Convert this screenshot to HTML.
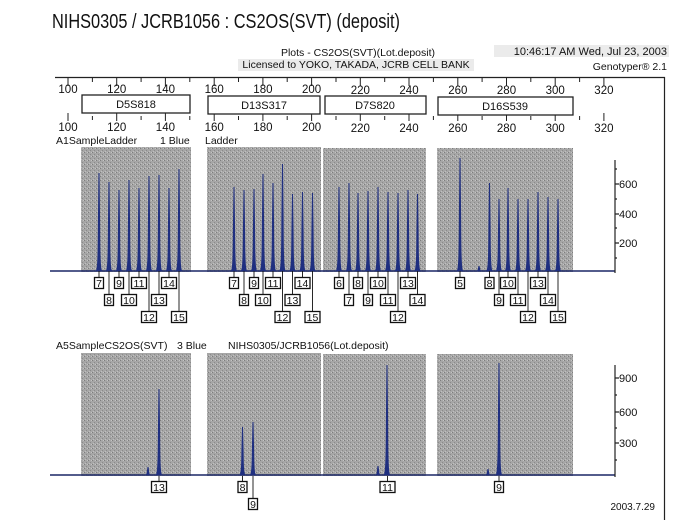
<!DOCTYPE html>
<html><head><meta charset="utf-8"><style>
html,body{margin:0;padding:0;background:#fff}
svg{display:block}
text{font-family:"Liberation Sans",sans-serif;fill:#111}
.lb rect{fill:#fff;stroke:#111;stroke-width:1.3}
.lb line{stroke:#111;stroke-width:0.9}
.lb text{font-size:10.5px;text-anchor:middle}
.pk{fill:#1f2f80;stroke:none}
</style></head><body>
<svg width="700" height="520" viewBox="0 0 700 520" xmlns="http://www.w3.org/2000/svg">
<defs>
<path id="pk" d="M-3.5,0 C-1.4,0 -1.3,-0.2 -1.1,-0.5 L-0.5,-1 L0.5,-1 L1.1,-0.5 C1.3,-0.2 1.4,0 3.5,0 Z"/>
<pattern id="gr" width="4" height="4" patternUnits="userSpaceOnUse">
<rect width="4" height="4" fill="#a6a6a6"/><rect x="0" y="0" width="1" height="1" fill="#7d7d7d"/><rect x="2" y="2" width="1" height="1" fill="#8a8a8a"/><rect x="3" y="0" width="1" height="1" fill="#c4c4c4"/><rect x="1" y="3" width="1" height="1" fill="#c0c0c0"/>
</pattern>
</defs>
<text x="52" y="28" font-size="20" textLength="348" lengthAdjust="spacingAndGlyphs">NIHS0305 / JCRB1056 : CS2OS(SVT)  (deposit)</text>
<text x="358" y="56" font-size="10.5" text-anchor="middle">Plots - CS2OS(SVT)(Lot.deposit)</text>
<rect x="238" y="59" width="236" height="12" fill="#ebebeb"/>
<text x="356" y="68" font-size="10.5" text-anchor="middle">Licensed to YOKO, TAKADA, JCRB CELL BANK</text>
<rect x="494" y="45" width="175" height="12" fill="#ebebeb"/>
<text x="667" y="55" font-size="11" text-anchor="end">10:46:17 AM Wed, Jul 23, 2003</text>
<text x="667" y="70" font-size="10.5" text-anchor="end">Genotyper® 2.1</text>
<line x1="55" y1="77.5" x2="665" y2="77.5" stroke="#222" stroke-width="1.2"/>
<line x1="664.5" y1="77" x2="664.5" y2="520" stroke="#222" stroke-width="1.2"/>
<g stroke="#222" stroke-width="1">
<path d="M68,78v8M92.4,78v4M116.7,78v8M141.1,78v4M165.4,78v8M189.8,78v4M214.2,78v8M238.5,78v4M262.9,78v8M287.2,78v4M311.6,78v8M336,78v4M360.3,78v8M384.7,78v4M409,78v8M433.4,78v4M457.8,78v8M482.1,78v4M506.5,78v8M530.8,78v4M555.2,78v8M579.6,78v4M603.9,78v8"/>
<path d="M68,113v8M92.4,116v4M116.7,113v8M141.1,116v4M165.4,113v8M189.8,116v4M214.2,113v8M238.5,116v4M262.9,113v8M287.2,116v4M311.6,113v8M336,116v4M360.3,113v8M384.7,116v4M409,113v8M433.4,116v4M457.8,113v8M482.1,116v4M506.5,113v8M530.8,116v4M555.2,113v8M579.6,116v4M603.9,113v8"/>
</g>
<g font-size="11.5" text-anchor="middle">
<text x="68" y="93">100</text><text x="116.7" y="93">120</text><text x="165.4" y="93">140</text><text x="214.2" y="93">160</text><text x="262.9" y="93">180</text><text x="311.6" y="93">200</text><text x="360.3" y="94">220</text><text x="409" y="94">240</text><text x="457.8" y="94">260</text><text x="506.5" y="94">280</text><text x="555.2" y="94">300</text><text x="603.9" y="94">320</text>
<text x="68" y="131">100</text><text x="116.7" y="131">120</text><text x="165.4" y="131">140</text><text x="214.2" y="131">160</text><text x="262.9" y="131">180</text><text x="311.6" y="131">200</text><text x="360.3" y="132">220</text><text x="409" y="132">240</text><text x="457.8" y="132">260</text><text x="506.5" y="132">280</text><text x="555.2" y="132">300</text><text x="603.9" y="132">320</text>
</g>
<g fill="#fff" stroke="#222" stroke-width="1.3">
<rect x="82" y="95" width="108" height="18"/><rect x="208" y="96" width="112" height="18"/><rect x="325" y="96" width="101" height="18"/><rect x="438" y="97" width="135" height="18"/>
</g>
<g font-size="11" text-anchor="middle">
<text x="136" y="108">D5S818</text><text x="264" y="109">D13S317</text><text x="375" y="109">D7S820</text><text x="505" y="110">D16S539</text>
</g>
<text x="56" y="144" font-size="10.5">A1SampleLadder</text>
<text x="160" y="144" font-size="10.5">1 Blue</text>
<text x="205" y="144" font-size="10.5">Ladder</text>
<g fill="url(#gr)">
<rect x="81" y="147" width="110" height="125"/><rect x="207" y="147" width="114" height="125"/><rect x="323" y="148" width="103" height="124"/><rect x="437" y="148" width="136" height="124"/>
</g>
<line x1="50" y1="271" x2="615" y2="271" stroke="#1a2766" stroke-width="1.6"/>
<g class="pk">
<use href="#pk" transform="translate(99,271) scale(1,98)"/><use href="#pk" transform="translate(109,271) scale(1,89)"/><use href="#pk" transform="translate(119,271) scale(1,81)"/><use href="#pk" transform="translate(129,271) scale(1,91)"/><use href="#pk" transform="translate(139,271) scale(1,83)"/><use href="#pk" transform="translate(149,271) scale(1,95)"/><use href="#pk" transform="translate(159,271) scale(1,96)"/><use href="#pk" transform="translate(169,271) scale(1,83)"/><use href="#pk" transform="translate(179,271) scale(1,102)"/>
<use href="#pk" transform="translate(234,271) scale(1,84)"/><use href="#pk" transform="translate(244,271) scale(1,81)"/><use href="#pk" transform="translate(254,271) scale(1,82)"/><use href="#pk" transform="translate(263,271) scale(1,97)"/><use href="#pk" transform="translate(273,271) scale(1,88)"/><use href="#pk" transform="translate(282.5,271) scale(1,107)"/><use href="#pk" transform="translate(292.5,271) scale(1,77)"/><use href="#pk" transform="translate(302.5,271) scale(1,79)"/><use href="#pk" transform="translate(312.5,271) scale(1,78)"/>
<use href="#pk" transform="translate(339,271) scale(1,84)"/><use href="#pk" transform="translate(349,271) scale(1,88)"/><use href="#pk" transform="translate(358,271) scale(1,78)"/><use href="#pk" transform="translate(368,271) scale(1,80)"/><use href="#pk" transform="translate(378,271) scale(1,84)"/><use href="#pk" transform="translate(388,271) scale(1,79)"/><use href="#pk" transform="translate(398,271) scale(1,78)"/><use href="#pk" transform="translate(408,271) scale(1,81)"/><use href="#pk" transform="translate(417.5,271) scale(1,77)"/>
<use href="#pk" transform="translate(460,271) scale(1,113)"/><use href="#pk" transform="translate(479,271) scale(1,5)"/><use href="#pk" transform="translate(489.5,271) scale(1,88)"/><use href="#pk" transform="translate(499,271) scale(1,72)"/><use href="#pk" transform="translate(508,271) scale(1,83)"/><use href="#pk" transform="translate(518,271) scale(1,72)"/><use href="#pk" transform="translate(528,271) scale(1,72)"/><use href="#pk" transform="translate(538,271) scale(1,79)"/><use href="#pk" transform="translate(548,271) scale(1,74)"/><use href="#pk" transform="translate(558,271) scale(1,72)"/>
</g>
<g stroke="#222" stroke-width="1.2"><path d="M615,160V273M615,184h4M615,214h4M615,243h4M615,199h2M615,228h2M615,258h2M615,169h2"/></g>
<g font-size="11"><text x="619" y="188">600</text><text x="619" y="218">400</text><text x="619" y="247">200</text></g>
<g class="lb">
<g transform="translate(99,283)"><line y1="-12" y2="-5.5"/><rect x="-4.5" y="-5.5" width="9" height="11"/><text y="4">7</text></g>
<g transform="translate(109,300)"><line y1="-29" y2="-5.5"/><rect x="-4.5" y="-5.5" width="9" height="11"/><text y="4">8</text></g>
<g transform="translate(119,283)"><line y1="-12" y2="-5.5"/><rect x="-4.5" y="-5.5" width="9" height="11"/><text y="4">9</text></g>
<g transform="translate(129,300)"><line y1="-29" y2="-5.5"/><rect x="-7.5" y="-5.5" width="15" height="11"/><text y="4">10</text></g>
<g transform="translate(139,283)"><line y1="-12" y2="-5.5"/><rect x="-7.5" y="-5.5" width="15" height="11"/><text y="4">11</text></g>
<g transform="translate(149,317)"><line y1="-46" y2="-5.5"/><rect x="-7.5" y="-5.5" width="15" height="11"/><text y="4">12</text></g>
<g transform="translate(159,300)"><line y1="-29" y2="-5.5"/><rect x="-7.5" y="-5.5" width="15" height="11"/><text y="4">13</text></g>
<g transform="translate(169,283)"><line y1="-12" y2="-5.5"/><rect x="-7.5" y="-5.5" width="15" height="11"/><text y="4">14</text></g>
<g transform="translate(179,317)"><line y1="-46" y2="-5.5"/><rect x="-7.5" y="-5.5" width="15" height="11"/><text y="4">15</text></g>
<g transform="translate(234,283)"><line y1="-12" y2="-5.5"/><rect x="-4.5" y="-5.5" width="9" height="11"/><text y="4">7</text></g>
<g transform="translate(244,300)"><line y1="-29" y2="-5.5"/><rect x="-4.5" y="-5.5" width="9" height="11"/><text y="4">8</text></g>
<g transform="translate(254,283)"><line y1="-12" y2="-5.5"/><rect x="-4.5" y="-5.5" width="9" height="11"/><text y="4">9</text></g>
<g transform="translate(263,300)"><line y1="-29" y2="-5.5"/><rect x="-7.5" y="-5.5" width="15" height="11"/><text y="4">10</text></g>
<g transform="translate(273,283)"><line y1="-12" y2="-5.5"/><rect x="-7.5" y="-5.5" width="15" height="11"/><text y="4">11</text></g>
<g transform="translate(282.5,317)"><line y1="-46" y2="-5.5"/><rect x="-7.5" y="-5.5" width="15" height="11"/><text y="4">12</text></g>
<g transform="translate(292.5,300)"><line y1="-29" y2="-5.5"/><rect x="-7.5" y="-5.5" width="15" height="11"/><text y="4">13</text></g>
<g transform="translate(302.5,283)"><line y1="-12" y2="-5.5"/><rect x="-7.5" y="-5.5" width="15" height="11"/><text y="4">14</text></g>
<g transform="translate(312.5,317)"><line y1="-46" y2="-5.5"/><rect x="-7.5" y="-5.5" width="15" height="11"/><text y="4">15</text></g>
<g transform="translate(339,283)"><line y1="-12" y2="-5.5"/><rect x="-4.5" y="-5.5" width="9" height="11"/><text y="4">6</text></g>
<g transform="translate(349,300)"><line y1="-29" y2="-5.5"/><rect x="-4.5" y="-5.5" width="9" height="11"/><text y="4">7</text></g>
<g transform="translate(358,283)"><line y1="-12" y2="-5.5"/><rect x="-4.5" y="-5.5" width="9" height="11"/><text y="4">8</text></g>
<g transform="translate(368,300)"><line y1="-29" y2="-5.5"/><rect x="-4.5" y="-5.5" width="9" height="11"/><text y="4">9</text></g>
<g transform="translate(378,283)"><line y1="-12" y2="-5.5"/><rect x="-7.5" y="-5.5" width="15" height="11"/><text y="4">10</text></g>
<g transform="translate(388,300)"><line y1="-29" y2="-5.5"/><rect x="-7.5" y="-5.5" width="15" height="11"/><text y="4">11</text></g>
<g transform="translate(398,317)"><line y1="-46" y2="-5.5"/><rect x="-7.5" y="-5.5" width="15" height="11"/><text y="4">12</text></g>
<g transform="translate(408,283)"><line y1="-12" y2="-5.5"/><rect x="-7.5" y="-5.5" width="15" height="11"/><text y="4">13</text></g>
<g transform="translate(417.5,300)"><line y1="-29" y2="-5.5"/><rect x="-7.5" y="-5.5" width="15" height="11"/><text y="4">14</text></g>
<g transform="translate(460,283)"><line y1="-12" y2="-5.5"/><rect x="-4.5" y="-5.5" width="9" height="11"/><text y="4">5</text></g>
<g transform="translate(489.5,283)"><line y1="-12" y2="-5.5"/><rect x="-4.5" y="-5.5" width="9" height="11"/><text y="4">8</text></g>
<g transform="translate(499,300)"><line y1="-29" y2="-5.5"/><rect x="-4.5" y="-5.5" width="9" height="11"/><text y="4">9</text></g>
<g transform="translate(508,283)"><line y1="-12" y2="-5.5"/><rect x="-7.5" y="-5.5" width="15" height="11"/><text y="4">10</text></g>
<g transform="translate(518,300)"><line y1="-29" y2="-5.5"/><rect x="-7.5" y="-5.5" width="15" height="11"/><text y="4">11</text></g>
<g transform="translate(528,317)"><line y1="-46" y2="-5.5"/><rect x="-7.5" y="-5.5" width="15" height="11"/><text y="4">12</text></g>
<g transform="translate(538,283)"><line y1="-12" y2="-5.5"/><rect x="-7.5" y="-5.5" width="15" height="11"/><text y="4">13</text></g>
<g transform="translate(548,300)"><line y1="-29" y2="-5.5"/><rect x="-7.5" y="-5.5" width="15" height="11"/><text y="4">14</text></g>
<g transform="translate(558,317)"><line y1="-46" y2="-5.5"/><rect x="-7.5" y="-5.5" width="15" height="11"/><text y="4">15</text></g>
</g>
<text x="56" y="349" font-size="10.5">A5SampleCS2OS(SVT)</text>
<text x="177" y="349" font-size="10.5">3 Blue</text>
<text x="228" y="349" font-size="10.5">NIHS0305/JCRB1056(Lot.deposit)</text>
<g fill="url(#gr)">
<rect x="81" y="353" width="110" height="123"/><rect x="207" y="353" width="114" height="123"/><rect x="323" y="354" width="103" height="122"/><rect x="437" y="354" width="136" height="122"/>
</g>
<line x1="50" y1="475" x2="615" y2="475" stroke="#1a2766" stroke-width="1.6"/>
<g class="pk">
<use href="#pk" transform="translate(148,475) scale(1,8)"/><use href="#pk" transform="translate(159,475) scale(1,86)"/>
<use href="#pk" transform="translate(242.5,475) scale(1,48)"/><use href="#pk" transform="translate(253,475) scale(1,53)"/>
<use href="#pk" transform="translate(378,475) scale(1,9)"/><use href="#pk" transform="translate(387,475) scale(1,110)"/>
<use href="#pk" transform="translate(488,475) scale(1,6)"/><use href="#pk" transform="translate(499,475) scale(1,112)"/>
</g>
<g stroke="#222" stroke-width="1.2"><path d="M615,365V477M615,378h4M615,412h4M615,443h4M615,395h2M615,428h2M615,460h2"/></g>
<g font-size="11"><text x="619" y="382">900</text><text x="619" y="416">600</text><text x="619" y="447">300</text></g>
<g class="lb">
<g transform="translate(159,487)"><line y1="-11" y2="-5.5"/><rect x="-7.5" y="-5.5" width="15" height="11"/><text y="4">13</text></g>
<g transform="translate(242.5,487)"><line y1="-11" y2="-5.5"/><rect x="-4.5" y="-5.5" width="9" height="11"/><text y="4">8</text></g>
<g transform="translate(253,504)"><line y1="-28" y2="-5.5"/><rect x="-4.5" y="-5.5" width="9" height="11"/><text y="4">9</text></g>
<g transform="translate(387.5,487)"><line y1="-11" y2="-5.5"/><rect x="-7.5" y="-5.5" width="15" height="11"/><text y="4">11</text></g>
<g transform="translate(499,487)"><line y1="-11" y2="-5.5"/><rect x="-4.5" y="-5.5" width="9" height="11"/><text y="4">9</text></g>
</g>
<text x="655" y="510" font-size="10" text-anchor="end">2003.7.29</text>
</svg>
</body></html>
